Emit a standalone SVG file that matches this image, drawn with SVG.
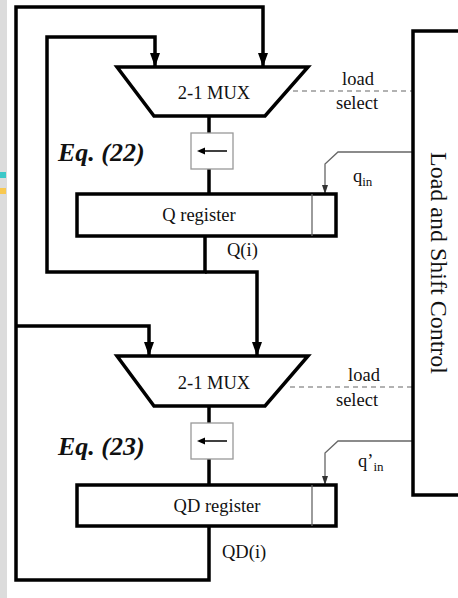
<svg xmlns="http://www.w3.org/2000/svg" width="458" height="598" viewBox="0 0 458 598">
<defs>
<marker id="big" viewBox="0 0 14 10" refX="14" refY="5" markerWidth="14" markerHeight="10" markerUnits="userSpaceOnUse" orient="auto"><path d="M0,0 L14,5 L0,10 Z" fill="#000"/></marker>
<marker id="small" viewBox="0 0 9 6" refX="9" refY="3" markerWidth="9" markerHeight="6" markerUnits="userSpaceOnUse" orient="auto"><path d="M0,0 L9,3 L0,6 Z" fill="#333"/></marker>
</defs>
<style>
.thick{fill:none;stroke:#000;stroke-width:3.5;stroke-linejoin:miter}
.thin{fill:none;stroke:#666;stroke-width:1.3}
.dash{fill:none;stroke:#999;stroke-width:1.3;stroke-dasharray:5 4}
.box{fill:#fff;stroke:#000;stroke-width:3.5}
.sbox{fill:#fff;stroke:#999;stroke-width:1.3}
text{font-family:"Liberation Serif","Times New Roman",serif;fill:#111}
.t{font-size:18.5px}
.eq{font-size:26px;font-weight:bold;font-style:italic}
</style>
<rect x="0" y="0" width="458" height="598" fill="#fff"/>
<rect x="0" y="0" width="7" height="598" fill="#dcdcdc"/>
<rect x="0" y="172" width="6" height="6" fill="#3cc8c8"/>
<rect x="0" y="188" width="6" height="6" fill="#f8c850"/>

<g id="connectors">
<path class="thick" d="M209,526 V580 H16 V7 H263 V67" marker-end="url(#big)"/>
<path class="thick" d="M16,326 H149 V356" marker-end="url(#big)"/>
<path class="thick" d="M205,236 V272 H47 V37 H155 V67" marker-end="url(#big)"/>
<path class="thick" d="M205,272 H257 V356" marker-end="url(#big)"/>
<path class="thick" d="M209,116 V194"/>
<path class="thick" d="M209,406 V485"/>
<path class="dash" d="M293,91 H413"/>
<path class="dash" d="M290,387 H413"/>
<path class="thin" d="M413,152 H338 L325,164 V194" marker-end="url(#small)"/>
<path class="thin" d="M413,441 H338 L325,453 V485" marker-end="url(#small)"/>
</g>

<g id="mux1">
<path class="box" d="M117,67 H308 L265,116 H154 Z"/>
<text class="t" x="214" y="99" text-anchor="middle">2-1 MUX</text>
</g>
<g id="shift1">
<rect class="sbox" x="191" y="133" width="42" height="36"/>
<path d="M227,151 H203" stroke="#000" stroke-width="1.5"/>
<path d="M197,151 L205,147.5 L205,154.5 Z" fill="#000"/>
</g>
<g id="eq22"><text class="eq" x="58" y="161">Eq. (22)</text></g>
<g id="qreg">
<rect class="box" x="77" y="194" width="259" height="42"/>
<line x1="312" y1="194" x2="312" y2="236" stroke="#666" stroke-width="1.3"/>
<text class="t" x="199" y="221" text-anchor="middle">Q register</text>
</g>
<g id="labels1">
<text class="t" x="358" y="85" text-anchor="middle">load</text>
<text class="t" x="357" y="109" text-anchor="middle">select</text>
<text class="t" x="353" y="182">q<tspan font-size="13" dy="4">in</tspan></text>
<text class="t" x="227" y="256">Q(i)</text>
</g>

<g id="mux2">
<path class="box" d="M117,356 H308 L265,406 H154 Z"/>
<text class="t" x="214" y="389" text-anchor="middle">2-1 MUX</text>
</g>
<g id="shift2">
<rect class="sbox" x="191" y="423" width="42" height="36"/>
<path d="M227,441 H203" stroke="#000" stroke-width="1.5"/>
<path d="M197,441 L205,437.5 L205,444.5 Z" fill="#000"/>
</g>
<g id="eq23"><text class="eq" x="58" y="455">Eq. (23)</text></g>
<g id="qdreg">
<rect class="box" x="77" y="485" width="259" height="41"/>
<line x1="312" y1="485" x2="312" y2="526" stroke="#666" stroke-width="1.3"/>
<text class="t" x="217" y="512" text-anchor="middle">QD register</text>
</g>
<g id="labels2">
<text class="t" x="364" y="381" text-anchor="middle">load</text>
<text class="t" x="357" y="406" text-anchor="middle">select</text>
<text class="t" x="358" y="467">q’<tspan font-size="13" dy="4">in</tspan></text>
<text class="t" x="222" y="558">QD(i)</text>
</g>

<g id="control">
<path class="box" d="M470,31 H413 V495 H470"/>
<text x="431" y="263" font-size="24" text-anchor="middle" transform="rotate(90 431 263)">Load and Shift Control</text>
</g>
</svg>
